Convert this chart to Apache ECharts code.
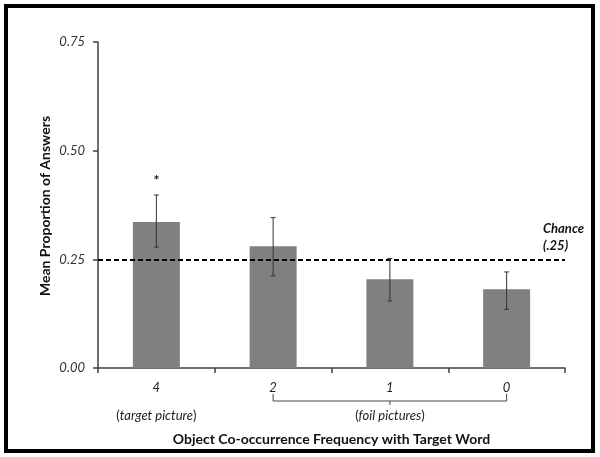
<!DOCTYPE html>
<html><head><meta charset="utf-8">
<script src="https://cdn.jsdelivr.net/npm/echarts@6/dist/echarts.min.js"></script>
<style>html,body{margin:0;padding:0;background:#fff}#c{width:600px;height:457px}</style>
</head><body><div id="c"></div>
<script>
var categories = ['4', '2', '1', '0'];
var means = [0.336, 0.280, 0.204, 0.181];
var errLow = [0.278, 0.212, 0.154, 0.135];
var errHigh = [0.398, 0.346, 0.252, 0.221];
var sigMarks = ['*', '', '', ''];
var chance = 0.25;
var yTicks = [0, 0.25, 0.5, 0.75];

var FONT = 'Lato, "Open Sans", sans-serif';
var chart = echarts.init(document.getElementById('c'), null, {renderer: 'canvas'});
var errData = categories.map(function (c, i) { return [i, errLow[i], errHigh[i], sigMarks[i]]; });

chart.setOption({
  animation: false,
  backgroundColor: '#fff',
  grid: {left: 98, right: 35, top: 42, bottom: 89},
  xAxis: {
    type: 'category', data: categories,
    axisLine: {lineStyle: {color: '#404040', width: 1.5}},
    axisTick: {show: true, length: 5, lineStyle: {color: '#404040', width: 1.5}},
    axisLabel: {
      interval: 0,
      margin: 13,
      formatter: function (v, i) {
        if (i === 0) return '{n|' + v + '}\n{n|}\n{p|(}{pi|target picture}{p|)}';
        if (i === 2) return '{n|' + v + '}\n{n|}\n{p|(}{pi|foil pictures}{p|)}';
        return '{n|' + v + '}\n{n|}\n{n|}';
      },
      rich: {
        n: {fontFamily: FONT, fontStyle: 'italic', fontSize: 13, color: '#222', lineHeight: 14},
        p: {fontFamily: FONT, fontSize: 13, color: '#222', lineHeight: 14},
        pi: {fontFamily: FONT, fontStyle: 'italic', fontSize: 13, color: '#222', lineHeight: 14}
      }
    },
    name: 'Object Co-occurrence Frequency with Target Word',
    nameLocation: 'middle', nameGap: 64,
    nameTextStyle: {fontFamily: FONT, fontWeight: 'bold', fontSize: 14, color: '#111'}
  },
  yAxis: {
    type: 'value', min: 0, max: 0.75, interval: 0.25,
    splitLine: {show: false},
    axisLine: {show: true, lineStyle: {color: '#404040', width: 1.5}},
    axisTick: {show: true, length: 5, lineStyle: {color: '#404040', width: 1.5}},
    axisLabel: {margin: 13, fontFamily: FONT, fontStyle: 'italic', fontSize: 13, color: '#333',
      formatter: function (v) { return v.toFixed(2); }}
  },
  series: [
    {
      type: 'bar', data: means, barWidth: 47,
      itemStyle: {color: '#808080'},
      markLine: {
        silent: true, symbol: 'none',
        lineStyle: {color: '#000', type: [5, 3], width: 2},
        label: {show: false},
        data: [{yAxis: chance}]
      }
    },
    {
      type: 'custom', data: errData, z: 10,
      renderItem: function (params, api) {
        var x = api.value(0);
        var lo = api.coord([x, api.value(1)]);
        var hi = api.coord([x, api.value(2)]);
        var cw = 2.5;
        var children = [
          {type: 'line', shape: {x1: lo[0], y1: lo[1], x2: hi[0], y2: hi[1]}, style: {stroke: '#333', lineWidth: 1}},
          {type: 'line', shape: {x1: lo[0] - cw, y1: lo[1], x2: lo[0] + cw, y2: lo[1]}, style: {stroke: '#333', lineWidth: 1}},
          {type: 'line', shape: {x1: hi[0] - cw, y1: hi[1], x2: hi[0] + cw, y2: hi[1]}, style: {stroke: '#333', lineWidth: 1}}
        ];
        var mark = api.value(3);
        if (mark) {
          children.push({type: 'text', style: {text: mark, x: hi[0], y: hi[1] - 15, align: 'center', verticalAlign: 'middle',
            font: 'bold 14px ' + FONT, fill: '#111'}});
        }
        return {type: 'group', children: children};
      }
    }
  ]
});

// bracket and extra texts
var p1 = chart.convertToPixel({xAxisIndex: 0}, 1);
var p2 = chart.convertToPixel({xAxisIndex: 0}, 2);
var p3 = chart.convertToPixel({xAxisIndex: 0}, 3);
var cy = chart.convertToPixel({yAxisIndex: 0}, chance);
var by = 398;
chart.setOption({
  graphic: [
    {type: 'rect', shape: {x: 6, y: 6, width: 587, height: 445}, style: {fill: 'none', stroke: '#000', lineWidth: 4}},
    {type: 'polyline', shape: {points: [[p1, by - 4], [p1, by + 3], [p3, by + 3], [p3, by - 4]]}, style: {stroke: '#444', lineWidth: 1, fill: 'none'}},
    {type: 'line', shape: {x1: p2, y1: by + 3, x2: p2, y2: by + 7}, style: {stroke: '#444', lineWidth: 1}},
    {type: 'text', x: 45, y: 206, rotation: Math.PI / 2,
      style: {text: 'Mean Proportion of Answers', align: 'center', verticalAlign: 'middle', font: 'bold 14px ' + FONT, fill: '#111'}},
    {type: 'text', x: 543, y: cy - 22,
      style: {text: 'Chance\n(.25)', align: 'left', verticalAlign: 'middle', font: 'italic bold 13px ' + FONT, fill: '#111', lineHeight: 17}}
  ]
});
</script></body></html>
